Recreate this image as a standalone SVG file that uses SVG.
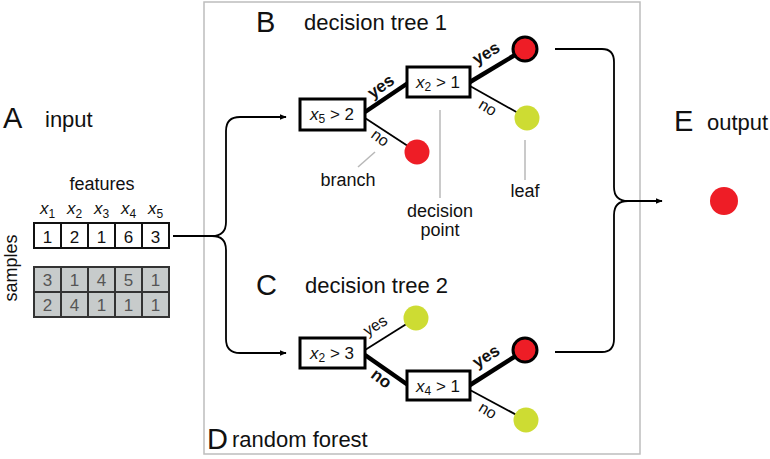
<svg xmlns="http://www.w3.org/2000/svg" width="770" height="459" viewBox="0 0 770 459">
<defs>
<style>
text{font-family:"Liberation Sans",Arial,sans-serif;fill:#111}
.big{font-size:29px}
.ttl{font-size:22px}
.lbl{font-size:18px}
.cell{font-size:17px;text-anchor:middle}
.gcell{font-size:17px;text-anchor:middle;fill:#555}
.box{fill:#fff;stroke:#000;stroke-width:3}
.bt{font-size:17px;text-anchor:middle}
.yn{font-size:16px;text-anchor:middle}
.ynb{font-size:17px;text-anchor:middle;font-weight:bold}
.thick{stroke:#000;stroke-width:4.5;fill:none}
.thin{stroke:#000;stroke-width:1.8;fill:none}
.lead{stroke:#b8b8b8;stroke-width:1.5;fill:none}
.red{fill:#ee1d26}
.redb{fill:#ee1d26;stroke:#000;stroke-width:3}
.yel{fill:#cddc33}
.conn{stroke:#000;stroke-width:1.8;fill:none}
</style>
<marker id="ah" viewBox="0 0 10 10" refX="9" refY="5" markerWidth="7" markerHeight="7" orient="auto" markerUnits="userSpaceOnUse"><path d="M0,1 L10,5 L0,9 Z" fill="#000"/></marker>
</defs>
<rect x="204" y="2" width="436" height="452" fill="none" stroke="#bdbdbd" stroke-width="1.5"/>

<g id="connectors">
<path class="conn" d="M173,236 H212 Q226,236 226,222 V131 Q226,117 240,117 H286" marker-end="url(#ah)"/>
<path class="conn" d="M212,236 Q226,236 226,250 V339 Q226,353 240,353 H286" marker-end="url(#ah)"/>
<path class="conn" d="M555,49 H602 Q614,49 614,62 V187 Q614,201 628,201 H662" marker-end="url(#ah)"/>
<path class="conn" d="M555,352 H602 Q614,352 614,339 V215 Q614,201 628,201"/>
</g>

<g id="A-input">
<text class="big" x="3" y="128">A</text>
<text class="ttl" x="45" y="127">input</text>
<text class="lbl" x="102" y="190" text-anchor="middle">features</text>
<g font-size="17" font-style="italic">
<text x="40" y="214">x<tspan dy="4" font-size="12" font-style="normal">1</tspan></text>
<text x="67" y="214">x<tspan dy="4" font-size="12" font-style="normal">2</tspan></text>
<text x="94" y="214">x<tspan dy="4" font-size="12" font-style="normal">3</tspan></text>
<text x="121" y="214">x<tspan dy="4" font-size="12" font-style="normal">4</tspan></text>
<text x="148" y="214">x<tspan dy="4" font-size="12" font-style="normal">5</tspan></text>
</g>
<g fill="#fff" stroke="#111" stroke-width="2">
<rect x="34" y="223" width="27" height="25"/><rect x="61" y="223" width="27" height="25"/><rect x="88" y="223" width="27" height="25"/><rect x="115" y="223" width="27" height="25"/><rect x="142" y="223" width="27" height="25"/>
</g>
<text class="cell" x="47.5" y="243">1</text><text class="cell" x="74.5" y="243">2</text><text class="cell" x="101.5" y="243">1</text><text class="cell" x="128.5" y="243">6</text><text class="cell" x="155.5" y="243">3</text>
<g fill="#c7cbcb" stroke="#333" stroke-width="2">
<rect x="34" y="267" width="27" height="25"/><rect x="61" y="267" width="27" height="25"/><rect x="88" y="267" width="27" height="25"/><rect x="115" y="267" width="27" height="25"/><rect x="142" y="267" width="27" height="25"/>
<rect x="34" y="292" width="27" height="25"/><rect x="61" y="292" width="27" height="25"/><rect x="88" y="292" width="27" height="25"/><rect x="115" y="292" width="27" height="25"/><rect x="142" y="292" width="27" height="25"/>
</g>
<text class="gcell" x="47.5" y="286">3</text><text class="gcell" x="74.5" y="286">1</text><text class="gcell" x="101.5" y="286">4</text><text class="gcell" x="128.5" y="286">5</text><text class="gcell" x="155.5" y="286">1</text>
<text class="gcell" x="47.5" y="311">2</text><text class="gcell" x="74.5" y="311">4</text><text class="gcell" x="101.5" y="311">1</text><text class="gcell" x="128.5" y="311">1</text><text class="gcell" x="155.5" y="311">1</text>
<text class="lbl" x="0" y="0" text-anchor="middle" transform="translate(17,268) rotate(-90)">samples</text>
</g>

<g id="B-tree1">
<text class="big" x="256" y="32">B</text>
<text class="ttl" x="304" y="30">decision tree 1</text>
<path class="thick" d="M365,112 L408,83"/>
<path class="thin" d="M365,118 L417,152"/>
<path class="thick" d="M470,82 L525,49"/>
<path class="thin" d="M470,86 L527,118"/>
<rect class="box" x="300" y="99" width="65" height="31"/>
<text class="bt" x="332" y="120"><tspan font-style="italic">x</tspan><tspan dy="3" font-size="12">5</tspan><tspan dy="-3"> &gt; 2</tspan></text>
<rect class="box" x="407" y="67" width="63" height="30"/>
<text class="bt" x="438" y="88"><tspan font-style="italic">x</tspan><tspan dy="3" font-size="12">2</tspan><tspan dy="-3"> &gt; 1</tspan></text>
<circle class="redb" cx="525" cy="49" r="12"/>
<circle class="yel" cx="527" cy="118" r="12.5"/>
<circle class="red" cx="417" cy="152" r="12.5"/>
<text class="ynb" transform="translate(384,91) rotate(-35)">yes</text>
<text class="yn" transform="translate(377,142) rotate(37)">no</text>
<text class="ynb" transform="translate(489,58) rotate(-31)">yes</text>
<text class="yn" transform="translate(485,112) rotate(31)">no</text>
</g>

<g id="annotations">
<path class="lead" d="M375,152 L358,167"/>
<text class="lbl" x="348" y="186" text-anchor="middle">branch</text>
<path class="lead" d="M440,110 V198"/>
<text class="lbl" x="440" y="217" text-anchor="middle">decision</text>
<text class="lbl" x="440" y="236" text-anchor="middle">point</text>
<path class="lead" d="M525,140 V180"/>
<text class="lbl" x="525" y="197" text-anchor="middle">leaf</text>
</g>

<g id="C-tree2">
<text class="big" x="256" y="295">C</text>
<text class="ttl" x="305" y="293">decision tree 2</text>
<path class="thin" d="M365,350 L416,318"/>
<path class="thick" d="M365,355 L408,385"/>
<path class="thick" d="M470,385 L525,350"/>
<path class="thin" d="M470,390 L526,420"/>
<rect class="box" x="300" y="338" width="65" height="30"/>
<text class="bt" x="332" y="359"><tspan font-style="italic">x</tspan><tspan dy="3" font-size="12">2</tspan><tspan dy="-3"> &gt; 3</tspan></text>
<rect class="box" x="407" y="371" width="63" height="29"/>
<text class="bt" x="438" y="392"><tspan font-style="italic">x</tspan><tspan dy="3" font-size="12">4</tspan><tspan dy="-3"> &gt; 1</tspan></text>
<circle class="yel" cx="416" cy="318" r="12.5"/>
<circle class="redb" cx="525" cy="350" r="12"/>
<circle class="yel" cx="526" cy="420" r="12.5"/>
<text class="yn" transform="translate(378,330) rotate(-32)">yes</text>
<text class="ynb" transform="translate(378,383) rotate(37)">no</text>
<text class="ynb" transform="translate(489,361) rotate(-32)">yes</text>
<text class="yn" transform="translate(485,415) rotate(31)">no</text>
</g>

<g id="D-forest">
<text class="big" x="207" y="449">D</text>
<text class="ttl" x="232" y="447">random forest</text>
</g>

<g id="E-output">
<text class="big" x="674" y="131">E</text>
<text class="ttl" x="707" y="130">output</text>
<circle class="red" cx="724" cy="201" r="14"/>
</g>
</svg>
